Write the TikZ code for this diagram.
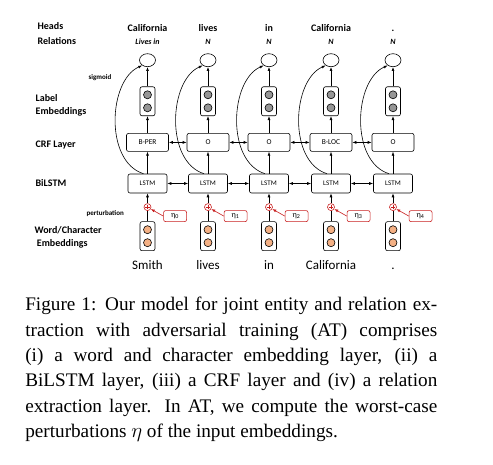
\documentclass[tikz,border=0pt]{standalone}
\usepackage{fontspec}
\setmainfont{Liberation Serif}
\newfontfamily\carlito{Carlito}
\usetikzlibrary{positioning,shapes.geometric,arrows.meta}
\definecolor{advred}{RGB}{200,30,30}
\definecolor{embfill}{RGB}{244,176,132}
\definecolor{labfill}{RGB}{150,150,150}
\begin{document}
\begin{tikzpicture}[x=1pt,y=-1pt,line width=0.6pt,
  arr/.style={-{Latex[length=4pt,width=3pt]}},
  darr/.style={{Latex[length=4pt,width=3pt]}-{Latex[length=4pt,width=3pt]}},
  lstmbox/.style={draw,rounded corners=2pt,minimum width=39pt,minimum height=19pt,inner sep=0pt,font=\carlito\fontsize{7}{8}\selectfont},
  crfbox/.style={lstmbox,minimum width=42pt,minimum height=18pt,font=\carlito\fontsize{7.5}{8}\selectfont},
  embbox/.style={draw,rounded corners=2pt,minimum width=15pt,minimum height=29pt,inner sep=0pt},
  gdot/.style={circle,draw,fill=labfill,minimum size=8pt,inner sep=0pt},
  odot/.style={circle,draw,fill=embfill,minimum size=8pt,inner sep=0pt},
  relcirc/.style={ellipse,draw,minimum width=16pt,minimum height=13pt,inner sep=0pt},
  addnode/.style={circle,draw=advred,minimum size=7pt,inner sep=0pt,
    path picture={\draw[advred,line width=0.5pt]
      ([xshift=-2.2pt]path picture bounding box.center) -- ([xshift=2.2pt]path picture bounding box.center)
      ([yshift=-2.2pt]path picture bounding box.center) -- ([yshift=2.2pt]path picture bounding box.center);}},
  etabox/.style={draw=advred,rounded corners=2pt,minimum width=23pt,minimum height=11pt,inner sep=0pt,font=\carlito\fontsize{8}{9}\selectfont},
  headtxt/.style={anchor=base,font=\carlito\bfseries\fontsize{10}{11}\selectfont},
  reltxt/.style={anchor=base,font=\carlito\bfseries\itshape\fontsize{8}{9}\selectfont},
  wordtxt/.style={anchor=base,font=\carlito\fontsize{13}{14}\selectfont},
  layertxt/.style={anchor=west,align=left,font=\carlito\bfseries\fontsize{10}{13}\selectfont}]
\useasboundingbox (0,0) rectangle (493,465);

% layer names
\node[layertxt,anchor=base west] (heads) at (34,30) {Heads};
\node[layertxt,anchor=base west] (rels) at (34,45) {Relations};
\node[anchor=base west,font=\carlito\bfseries\fontsize{7}{8}\selectfont] (sig) at (85,79.5) {sigmoid};
\node[layertxt] (labemb) at (32,105.5) {Label\\Embeddings};
\node[layertxt,anchor=base west] (crfname) at (32,148) {CRF Layer};
\node[layertxt,anchor=base west] (lstmname) at (32,187) {BiLSTM};
\node[anchor=base west,font=\carlito\bfseries\fontsize{7}{8}\selectfont] (pert) at (83,216) {perturbation};
\node[layertxt] (wordemb) at (31,237) {Word/Character\\~Embeddings};

% column 1
\node[lstmbox] (lstm1) at (147.5,183.5) {LSTM};
\node[crfbox,above=22pt of lstm1] (crf1) {B-PER};
\node[embbox,above=17pt of crf1] (le1) {};
\node[gdot] at ([yshift=6.5pt]le1.center) {};
\node[gdot] at ([yshift=-6.5pt]le1.center) {};
\node[relcirc,above=19.5pt of le1] (h1) {};
\node[addnode,below=10pt of lstm1] (add1) {};
\node[embbox,below=10.5pt of add1] (we1) {};
\node[odot] at ([yshift=6.5pt]we1.center) {};
\node[odot] at ([yshift=-6.5pt]we1.center) {};
\node[etabox,right=12pt of add1,yshift=-9pt] (eta1) {η\textsubscript{0}};
\node[headtxt] (hw1) at (147.5,32) {California};
\node[reltxt] (rel1) at (147.5,44.5) {Lives in};
\node[wordtxt] (w1) at (147.5,269.5) {Smith};

% column 2
\node[lstmbox] (lstm2) at (208,183.5) {LSTM};
\node[crfbox,above=22pt of lstm2] (crf2) {O};
\node[embbox,above=17pt of crf2] (le2) {};
\node[gdot] at ([yshift=6.5pt]le2.center) {};
\node[gdot] at ([yshift=-6.5pt]le2.center) {};
\node[relcirc,above=19.5pt of le2] (h2) {};
\node[addnode,below=10pt of lstm2] (add2) {};
\node[embbox,below=10.5pt of add2] (we2) {};
\node[odot] at ([yshift=6.5pt]we2.center) {};
\node[odot] at ([yshift=-6.5pt]we2.center) {};
\node[etabox,right=12pt of add2,yshift=-9pt] (eta2) {η\textsubscript{1}};
\node[headtxt] (hw2) at (208,32) {lives};
\node[reltxt] (rel2) at (208,44.5) {N};
\node[wordtxt] (w2) at (208,269.5) {lives};

% column 3
\node[lstmbox] (lstm3) at (269,183.5) {LSTM};
\node[crfbox,above=22pt of lstm3] (crf3) {O};
\node[embbox,above=17pt of crf3] (le3) {};
\node[gdot] at ([yshift=6.5pt]le3.center) {};
\node[gdot] at ([yshift=-6.5pt]le3.center) {};
\node[relcirc,above=19.5pt of le3] (h3) {};
\node[addnode,below=10pt of lstm3] (add3) {};
\node[embbox,below=10.5pt of add3] (we3) {};
\node[odot] at ([yshift=6.5pt]we3.center) {};
\node[odot] at ([yshift=-6.5pt]we3.center) {};
\node[etabox,right=12pt of add3,yshift=-9pt] (eta3) {η\textsubscript{2}};
\node[headtxt] (hw3) at (269,32) {in};
\node[reltxt] (rel3) at (269,44.5) {N};
\node[wordtxt] (w3) at (269,269.5) {in};

% column 4
\node[lstmbox] (lstm4) at (331,183.5) {LSTM};
\node[crfbox,above=22pt of lstm4] (crf4) {B-LOC};
\node[embbox,above=17pt of crf4] (le4) {};
\node[gdot] at ([yshift=6.5pt]le4.center) {};
\node[gdot] at ([yshift=-6.5pt]le4.center) {};
\node[relcirc,above=19.5pt of le4] (h4) {};
\node[addnode,below=10pt of lstm4] (add4) {};
\node[embbox,below=10.5pt of add4] (we4) {};
\node[odot] at ([yshift=6.5pt]we4.center) {};
\node[odot] at ([yshift=-6.5pt]we4.center) {};
\node[etabox,right=12pt of add4,yshift=-9pt] (eta4) {η\textsubscript{3}};
\node[headtxt] (hw4) at (331,32) {California};
\node[reltxt] (rel4) at (331,44.5) {N};
\node[wordtxt] (w4) at (331,269.5) {California};

% column 5
\node[lstmbox] (lstm5) at (393,183.5) {LSTM};
\node[crfbox,above=22pt of lstm5] (crf5) {O};
\node[embbox,above=17pt of crf5] (le5) {};
\node[gdot] at ([yshift=6.5pt]le5.center) {};
\node[gdot] at ([yshift=-6.5pt]le5.center) {};
\node[relcirc,above=19.5pt of le5] (h5) {};
\node[addnode,below=10pt of lstm5] (add5) {};
\node[embbox,below=10.5pt of add5] (we5) {};
\node[odot] at ([yshift=6.5pt]we5.center) {};
\node[odot] at ([yshift=-6.5pt]we5.center) {};
\node[etabox,right=12pt of add5,yshift=-9pt] (eta5) {η\textsubscript{4}};
\node[headtxt] (hw5) at (393,32) {.};
\node[reltxt] (rel5) at (393,44.5) {N};
\node[wordtxt] (w5) at (393,269.5) {.};

% vertical flow
\draw (we1) -- (add1); \draw[arr] (add1) -- (lstm1); \draw[arr] (lstm1) -- (crf1); \draw[arr] (crf1) -- (le1); \draw[arr] (le1) -- (h1);
\draw (we2) -- (add2); \draw[arr] (add2) -- (lstm2); \draw[arr] (lstm2) -- (crf2); \draw[arr] (crf2) -- (le2); \draw[arr] (le2) -- (h2);
\draw (we3) -- (add3); \draw[arr] (add3) -- (lstm3); \draw[arr] (lstm3) -- (crf3); \draw[arr] (crf3) -- (le3); \draw[arr] (le3) -- (h3);
\draw (we4) -- (add4); \draw[arr] (add4) -- (lstm4); \draw[arr] (lstm4) -- (crf4); \draw[arr] (crf4) -- (le4); \draw[arr] (le4) -- (h4);
\draw (we5) -- (add5); \draw[arr] (add5) -- (lstm5); \draw[arr] (lstm5) -- (crf5); \draw[arr] (crf5) -- (le5); \draw[arr] (le5) -- (h5);

% perturbations
\draw[arr,advred] (eta1.west) -- (add1.-30);
\draw[arr,advred] (eta2.west) -- (add2.-30);
\draw[arr,advred] (eta3.west) -- (add3.-30);
\draw[arr,advred] (eta4.west) -- (add4.-30);
\draw[arr,advred] (eta5.west) -- (add5.-30);

% BiLSTM and CRF links
\draw[darr] (lstm1) -- (lstm2); \draw[darr] (lstm2) -- (lstm3); \draw[darr] (lstm3) -- (lstm4); \draw[darr] (lstm4) -- (lstm5);
\draw[darr] (crf1) -- (crf2); \draw[darr] (crf2) -- (crf3); \draw[darr] (crf3) -- (crf4); \draw[darr] (crf4) -- (crf5);

% sigmoid heads
\draw[arr] ([xshift=-4pt]lstm1.north) .. controls +(-39,-12) and +(-34,15) .. (h1.225);
\draw[arr] ([xshift=-4pt]lstm2.north) .. controls +(-39,-12) and +(-34,15) .. (h2.225);
\draw[arr] ([xshift=-4pt]lstm3.north) .. controls +(-39,-12) and +(-34,15) .. (h3.225);
\draw[arr] ([xshift=-4pt]lstm4.north) .. controls +(-39,-12) and +(-34,15) .. (h4.225);
\draw[arr] ([xshift=-4pt]lstm5.north) .. controls +(-39,-12) and +(-34,15) .. (h5.225);

% caption
\node[anchor=base west,text width=412pt,align=justify,inner sep=0pt,font=\fontsize{19.2}{25.4}\selectfont] (cap) at (25,310.7)
  {Figure 1: Our model for joint entity and relation ex-\linebreak traction with adversarial training (AT) comprises\linebreak (i) a word and character embedding layer, (ii) a\linebreak BiLSTM layer, (iii) a CRF layer and (iv) a relation\linebreak extraction layer. In AT, we compute the worst-case\linebreak perturbations $\eta$ of the input embeddings.};
\end{tikzpicture}
\end{document}
